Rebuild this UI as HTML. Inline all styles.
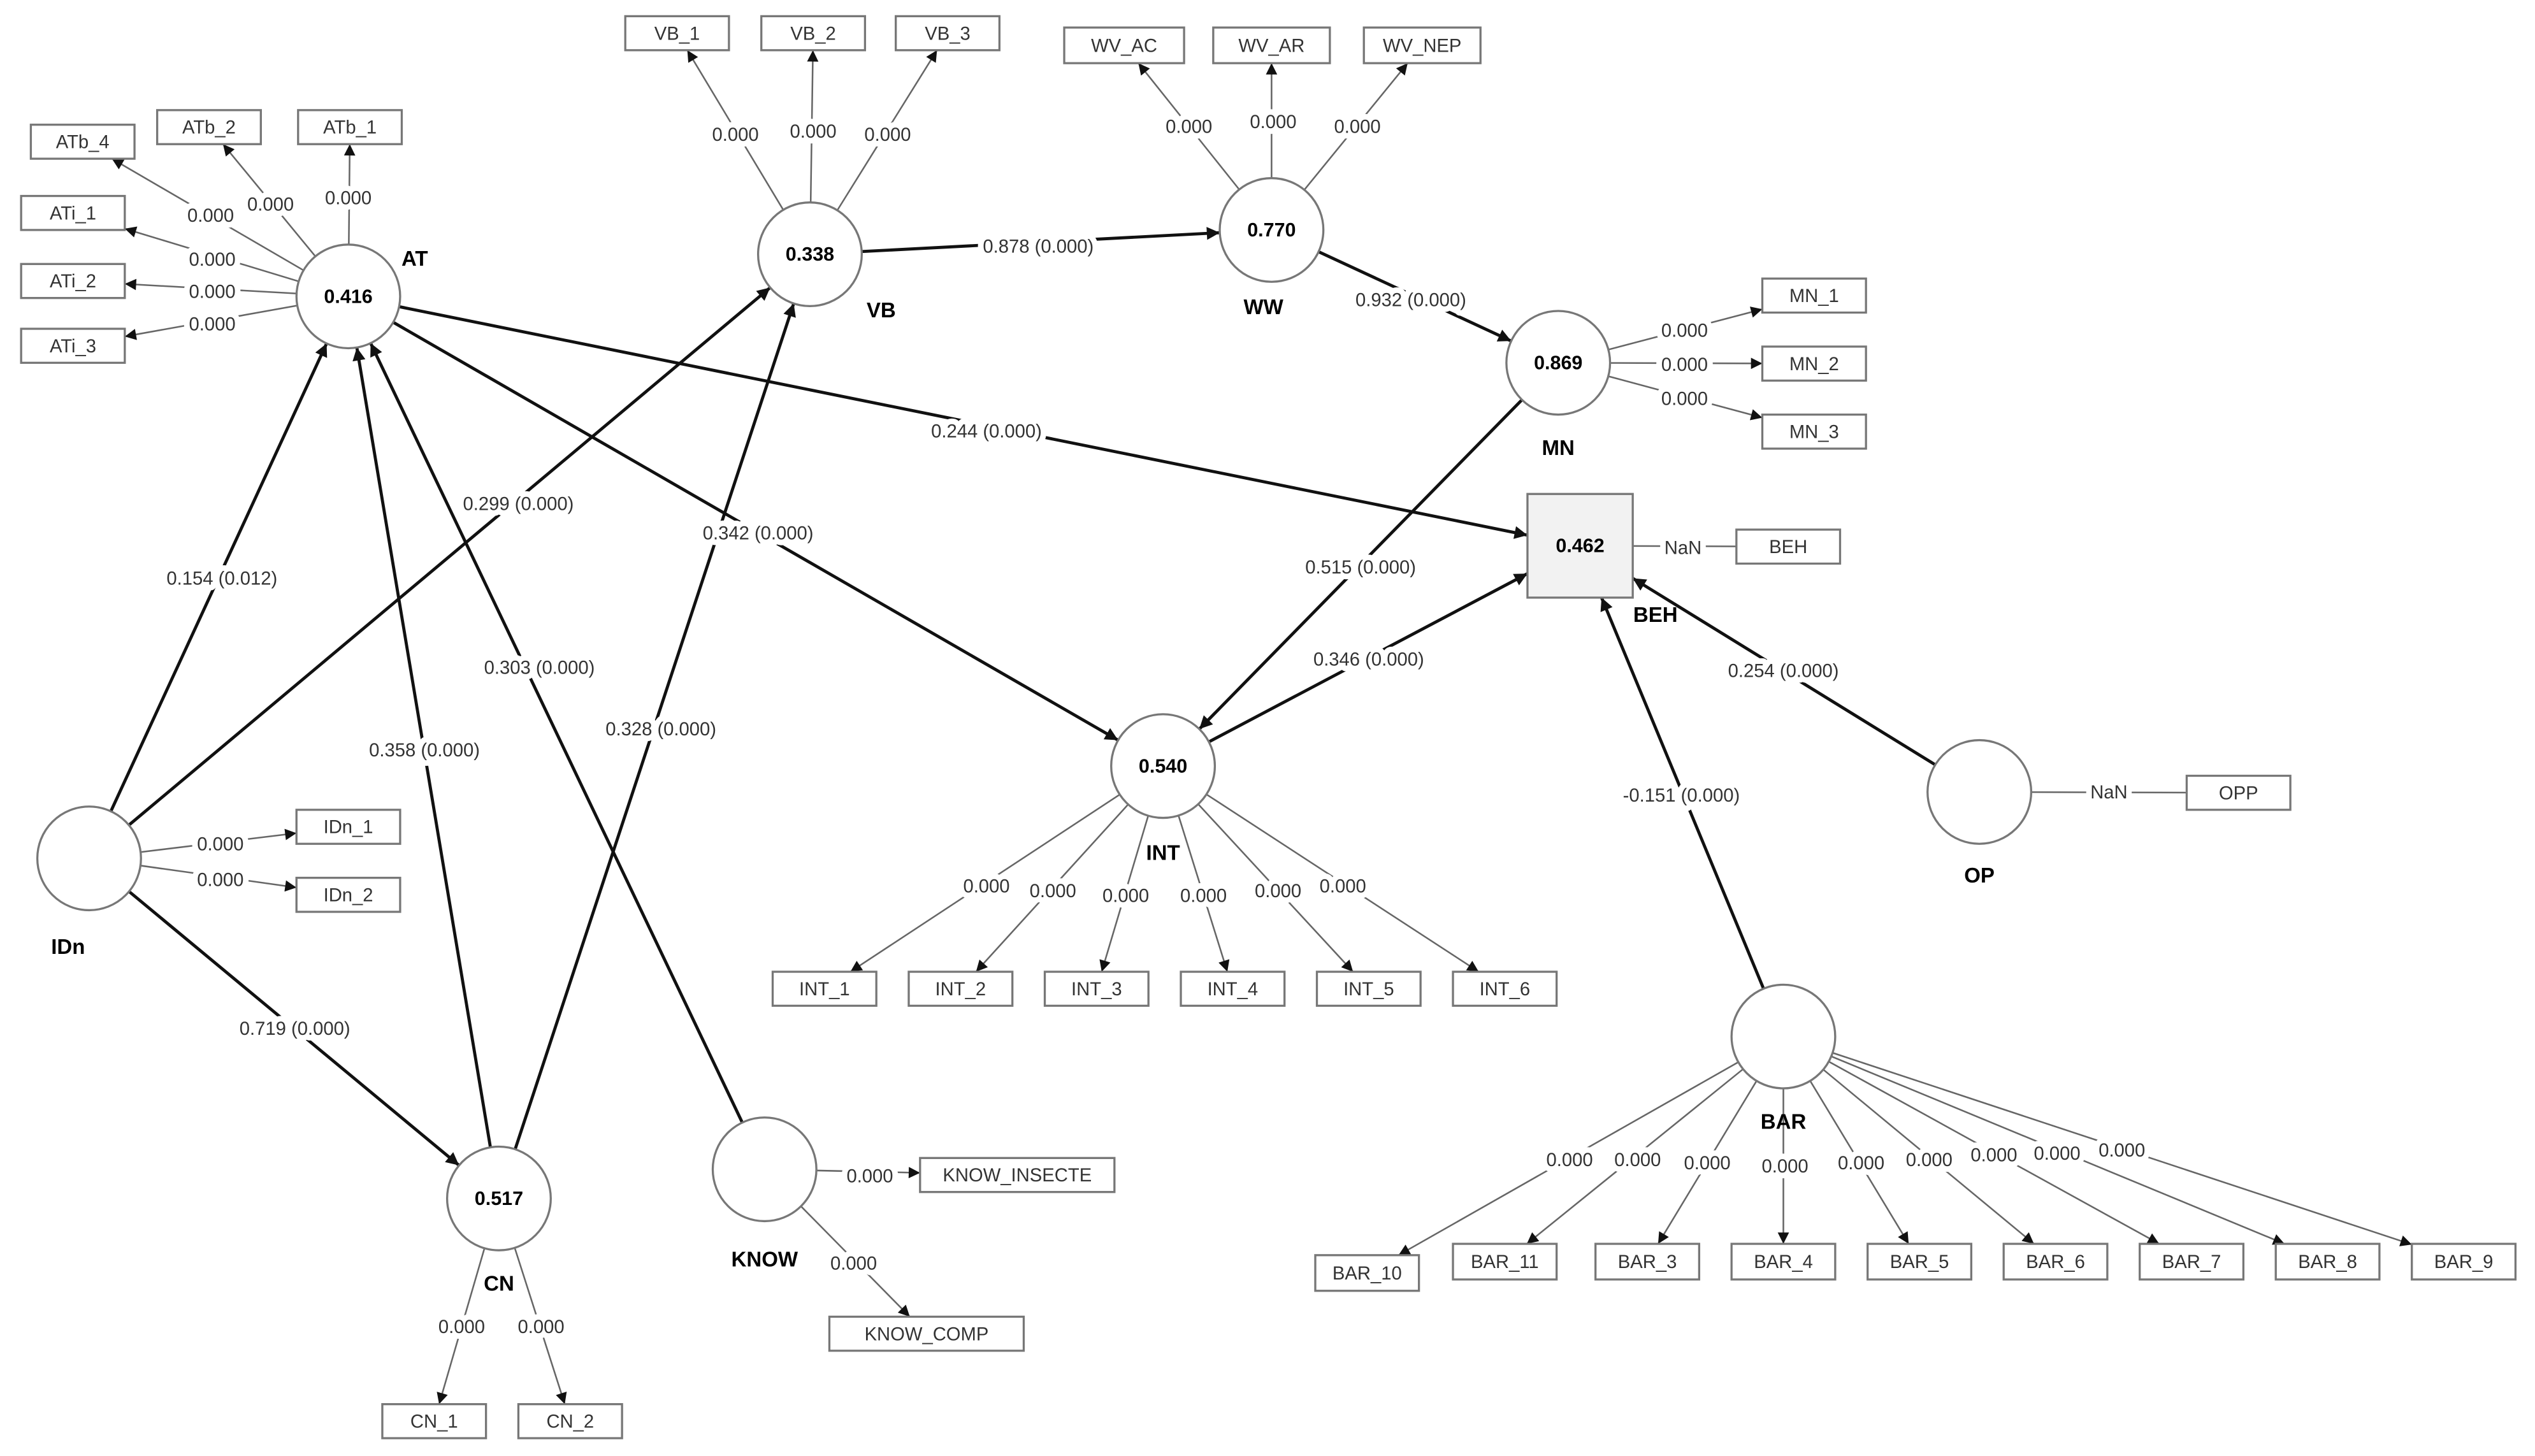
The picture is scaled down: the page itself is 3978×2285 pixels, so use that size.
<!DOCTYPE html>
<html><head><meta charset="utf-8">
<style>
html,body{margin:0;padding:0;background:#fff;}
svg{display:block;}
text{font-family:"Liberation Sans",sans-serif;}
</style></head>
<body>
<svg id="s" xmlns="http://www.w3.org/2000/svg" width="3978" height="2285" viewBox="0 0 1565 899">
<defs>
<marker id="a1" viewBox="0 0 10 10" refX="10" refY="5" markerWidth="9" markerHeight="8" markerUnits="userSpaceOnUse" orient="auto"><path d="M0,0 L10,5 L0,10 z" fill="#111"/></marker>
<marker id="a2" viewBox="0 0 10 10" refX="10" refY="5" markerWidth="8" markerHeight="7" markerUnits="userSpaceOnUse" orient="auto"><path d="M0,0 L10,5 L0,10 z" fill="#111"/></marker>
</defs>
<g id="lines"></g>
<g id="shapes"></g>
<g id="labels"></g>
</svg>
<script>
var NS="http://www.w3.org/2000/svg";
function el(p,t,a,txt){var e=document.createElementNS(NS,t);for(var k in a)e.setAttribute(k,a[k]);if(txt!==undefined)e.textContent=txt;document.getElementById(p).appendChild(e);return e;}
var N={};
function C(id,x,y,val,lab,lx,ly){N[id]={t:'c',x:x,y:y,r:32};el('shapes','circle',{cx:x,cy:y,r:32,fill:'#fff',stroke:'#777','stroke-width':1.3});
 if(val)el('labels','text',{x:x,y:y+4,'text-anchor':'middle','font-size':12,'font-weight':'bold'},val);
 el('labels','text',{x:lx,y:ly+4,'text-anchor':'middle','font-size':13,'font-weight':'bold'},lab);}
function R(id,x,y,w,h,txt,fill){N[id]={t:'r',x:x+w/2,y:y+h/2,w:w,h:h};el('shapes','rect',{x:x,y:y,width:w,height:h,fill:fill||'#fff',stroke:'#777','stroke-width':1.3});
 if(txt)el('labels','text',{x:x+w/2,y:y+h/2+4,'text-anchor':'middle','font-size':11.5,fill:'#333'},txt);}
function bnd(n,dx,dy){var L=Math.hypot(dx,dy);dx/=L;dy/=L;
 if(n.t=='c')return [n.x+dx*n.r,n.y+dy*n.r];
 var sx=dx?(n.w/2)/Math.abs(dx):1e9, sy=dy?(n.h/2)/Math.abs(dy):1e9, s=Math.min(sx,sy);return [n.x+dx*s,n.y+dy*s];}
function E(a,b,lab,lx,ly,thick,arrow){var A=N[a],B=N[b];var dx=B.x-A.x,dy=B.y-A.y;
 var p=bnd(A,dx,dy),q=bnd(B,-dx,-dy);
 var at={x1:p[0],y1:p[1],x2:q[0],y2:q[1],stroke:thick?'#111':'#666','stroke-width':thick?1.9:1};
 if(arrow!==false)at['marker-end']=thick?'url(#a1)':'url(#a2)';
 el('lines','line',at);
 if(lab)el('labels','text',{x:lx,y:ly+4,'text-anchor':'middle','font-size':11.5,fill:'#333',stroke:'#fff','stroke-width':7,'paint-order':'stroke','stroke-linejoin':'round'},lab);}
// latent nodes
C('AT',215,183,'0.416','AT',256,160);
C('VB',500,157,'0.338','VB',544,192);
C('WW',785,142,'0.770','WW',780,190);
C('MN',962,224,'0.869','MN',962,277);
C('INT',718,473,'0.540','INT',718,527);
C('IDn',55,530,'','IDn',42,585);
C('CN',308,740,'0.517','CN',308,793);
C('KNOW',472,722,'','KNOW',472,778);
C('OP',1222,489,'','OP',1222,541);
C('BAR',1101,640,'','BAR',1101,693);
N['BEH']={t:'r',x:975.5,y:337,w:65,h:64};
el('shapes','rect',{x:943,y:305,width:65,height:64,fill:'#f2f2f2',stroke:'#777','stroke-width':1.3});
el('labels','text',{x:975.5,y:341,'text-anchor':'middle','font-size':12,'font-weight':'bold'},'0.462');
el('labels','text',{x:1022,y:384,'text-anchor':'middle','font-size':13,'font-weight':'bold'},'BEH');
// indicators
R('ATb_4',19,77,64,21,'ATb_4');R('ATb_2',97,68,64,21,'ATb_2');R('ATb_1',184,68,64,21,'ATb_1');
R('ATi_1',13,121,64,21,'ATi_1');R('ATi_2',13,163,64,21,'ATi_2');R('ATi_3',13,203,64,21,'ATi_3');
R('VB_1',386,10,64,21,'VB_1');R('VB_2',470,10,64,21,'VB_2');R('VB_3',553,10,64,21,'VB_3');
R('WV_AC',657,17,74,22,'WV_AC');R('WV_AR',749,17,72,22,'WV_AR');R('WV_NEP',842,17,72,22,'WV_NEP');
R('MN_1',1088,172,64,21,'MN_1');R('MN_2',1088,214,64,21,'MN_2');R('MN_3',1088,256,64,21,'MN_3');
R('BEHi',1072,327,64,21,'BEH');R('OPP',1350,479,64,21,'OPP');
R('IDn_1',183,500,64,21,'IDn_1');R('IDn_2',183,542,64,21,'IDn_2');
var ix=[477,561,645,729,813,897];for(var i=0;i<6;i++)R('INT_'+(i+1),ix[i],600,64,21,'INT_'+(i+1));
R('CN_1',236,867,64,21,'CN_1');R('CN_2',320,867,64,21,'CN_2');
R('KI',568,715,120,21,'KNOW_INSECTE');R('KC',512,813,120,21,'KNOW_COMP');
R('BAR_10',812,775,64,22,'BAR_10');
var bx=[[897,'BAR_11'],[985,'BAR_3'],[1069,'BAR_4'],[1153,'BAR_5'],[1237,'BAR_6'],[1321,'BAR_7'],[1405,'BAR_8'],[1489,'BAR_9']];
bx.forEach(function(b){R(b[1],b[0],768,64,22,b[1]);});
// structural
E('AT','BEH','0.244 (0.000)',609,266,1);
E('AT','INT','0.342 (0.000)',468,329,1);
E('VB','WW','0.878 (0.000)',641,152,1);
E('WW','MN','0.932 (0.000)',871,185,1);
E('MN','INT','0.515 (0.000)',840,350,1);
E('INT','BEH','0.346 (0.000)',845,407,1);
E('OP','BEH','0.254 (0.000)',1101,414,1);
E('BAR','BEH','-0.151 (0.000)',1038,491,1);
E('IDn','AT','0.154 (0.012)',137,357,1);
E('IDn','VB','0.299 (0.000)',320,311,1);
E('IDn','CN','0.719 (0.000)',182,635,1);
E('CN','AT','0.358 (0.000)',262,463,1);
E('CN','VB','0.328 (0.000)',408,450,1);
E('KNOW','AT','0.303 (0.000)',333,412,1);
// measurement
var z='0.000';
E('AT','ATb_4',z,130,133,0);E('AT','ATb_2',z,167,126,0);E('AT','ATb_1',z,215,122,0);
E('AT','ATi_1',z,131,160,0);E('AT','ATi_2',z,131,180,0);E('AT','ATi_3',z,131,200,0);
E('VB','VB_1',z,454,83,0);E('VB','VB_2',z,502,81,0);E('VB','VB_3',z,548,83,0);
E('WW','WV_AC',z,734,78,0);E('WW','WV_AR',z,786,75,0);E('WW','WV_NEP',z,838,78,0);
E('MN','MN_1',z,1040,204,0);E('MN','MN_2',z,1040,225,0);E('MN','MN_3',z,1040,246,0);
E('BEH','BEHi','NaN',1039,338,0,false);E('OP','OPP','NaN',1302,489,0,false);
E('IDn','IDn_1',z,136,521,0);E('IDn','IDn_2',z,136,543,0);
var il=[[609,547],[650,550],[695,553],[743,553],[789,550],[829,547]];
for(var i=0;i<6;i++)E('INT','INT_'+(i+1),z,il[i][0],il[i][1],0);
E('CN','CN_1',z,285,819,0);E('CN','CN_2',z,334,819,0);
E('KNOW','KI',z,537,726,0);E('KNOW','KC',z,527,780,0);
var bl=[[969,716],[1011,716],[1054,718],[1102,720],[1149,718],[1191,716],[1231,713],[1270,712],[1310,710]];
var bn=['BAR_10','BAR_11','BAR_3','BAR_4','BAR_5','BAR_6','BAR_7','BAR_8','BAR_9'];
for(var i=0;i<9;i++)E('BAR',bn[i],z,bl[i][0],bl[i][1],0);
</script>
</body></html>
